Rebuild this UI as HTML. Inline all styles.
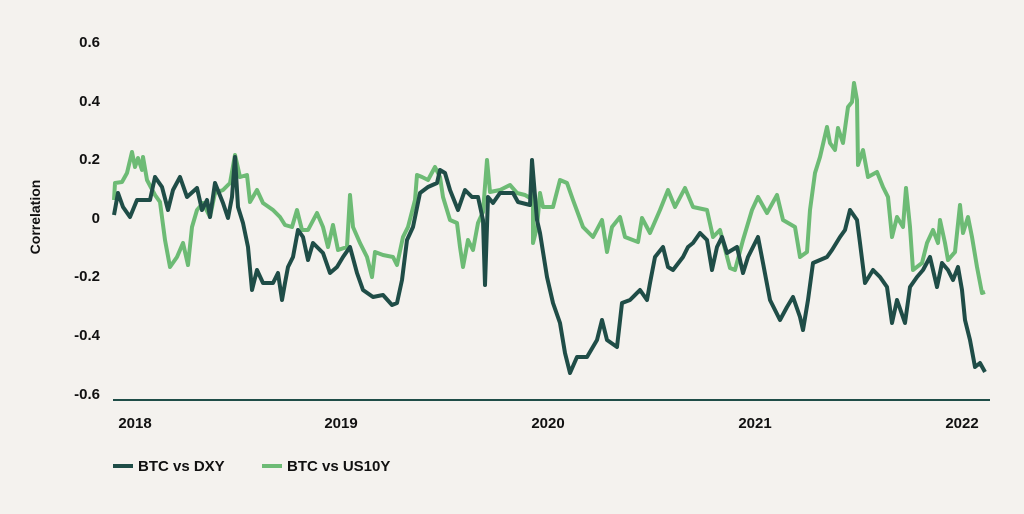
<!DOCTYPE html>
<html><head><meta charset="utf-8"><style>
body{margin:0;background:#f4f2ee;}
svg{display:block;font-family:"Liberation Sans",sans-serif;font-weight:bold;}
</style></head><body>
<svg width="1024" height="514" viewBox="0 0 1024 514">
<rect width="1024" height="514" fill="#f4f2ee"/>
<g font-size="15" fill="#111" text-anchor="end">
<text x="100" y="47">0.6</text>
<text x="100" y="106">0.4</text>
<text x="100" y="164">0.2</text>
<text x="100" y="223">0</text>
<text x="100" y="281">-0.2</text>
<text x="100" y="340">-0.4</text>
<text x="100" y="399">-0.6</text>
</g>
<text transform="translate(40,217) rotate(-90)" font-size="14" fill="#111" text-anchor="middle">Correlation</text>
<line x1="113" y1="400" x2="990" y2="400" stroke="#1f4d47" stroke-width="2"/>
<g font-size="15" fill="#111" text-anchor="middle">
<text x="135" y="428">2018</text>
<text x="341" y="428">2019</text>
<text x="548" y="428">2020</text>
<text x="755" y="428">2021</text>
<text x="962" y="428">2022</text>
</g>
<polyline fill="none" stroke="#6dbb75" stroke-width="4" stroke-linejoin="round" points="114,200 115,183 122,182 127,173 132,152 135,167 138,158 142,170 143,157 147,180 155,195 160,202 165,240 170,267 177,257 183,243 188,265 192,227 197,210 203,203 210,217 215,193 223,190 230,183 235,155 240,177 247,175 250,202 257,190 263,203 273,210 280,217 285,225 292,227 297,210 302,230 308,230 317,213 323,227 328,247 333,225 338,250 347,247 350,195 353,227 360,243 367,257 372,277 375,252 383,255 393,257 397,265 403,237 408,227 415,200 417,175 422,177 428,180 435,167 440,177 443,197 450,220 457,223 460,247 463,267 468,240 473,250 478,223 483,212 487,160 490,192 500,190 510,185 517,193 525,195 530,198 533,180 533,243 537,227 540,193 543,207 553,207 560,180 567,183 573,200 583,227 593,237 602,220 607,252 612,227 620,217 625,237 638,242 642,218 650,233 660,210 668,190 675,207 685,188 693,207 707,210 713,237 720,230 730,268 735,270 743,240 752,210 758,197 767,213 777,195 783,220 795,227 800,257 807,252 810,210 815,173 820,157 827,127 830,143 835,150 838,128 843,143 848,107 852,102 854,83 857,100 858,165 863,150 868,177 877,172 883,187 888,197 892,237 897,217 903,227 906,188 910,227 913,270 922,263 927,243 933,230 938,243 940,220 945,243 948,260 955,252 960,205 963,233 968,217 972,237 977,267 982,293 985,292"/>
<polyline fill="none" stroke="#1f4d47" stroke-width="4" stroke-linejoin="round" points="114,215 118,193 123,207 130,217 137,200 150,200 155,177 162,187 168,210 173,190 180,177 187,197 197,188 202,210 207,200 210,217 215,183 223,203 228,218 232,197 235,157 238,207 243,223 248,247 252,290 257,270 263,283 273,283 278,273 282,300 285,283 288,267 293,257 298,230 303,237 308,260 313,243 323,253 330,273 337,267 343,257 350,247 357,273 363,290 373,297 383,295 392,305 397,303 402,280 407,240 413,227 420,193 428,187 437,183 440,170 445,173 450,190 458,210 465,190 472,197 478,197 483,220 485,285 488,197 493,203 500,193 513,193 518,202 530,205 532,160 537,220 540,233 547,277 553,303 560,323 565,353 570,373 577,357 587,357 597,340 602,320 607,340 617,347 622,303 630,300 640,290 647,300 650,283 655,257 663,247 668,267 673,270 683,257 688,247 693,243 700,233 707,240 712,270 717,247 722,237 727,253 737,247 743,273 748,257 753,247 758,237 763,263 770,300 780,320 787,307 793,297 800,317 803,330 808,300 813,263 820,260 827,257 832,250 840,237 845,230 850,210 857,220 860,243 865,283 873,270 880,277 887,287 892,323 897,300 905,323 910,287 917,277 923,270 930,257 937,287 942,263 948,270 953,280 958,267 962,290 965,320 970,340 975,367 980,363 985,372"/>
<line x1="113" y1="466" x2="133" y2="466" stroke="#1f4d47" stroke-width="4"/>
<text x="138" y="471" font-size="15" fill="#111">BTC vs DXY</text>
<line x1="262" y1="466" x2="282" y2="466" stroke="#6dbb75" stroke-width="4"/>
<text x="287" y="471" font-size="15" fill="#111">BTC vs US10Y</text>
</svg>
</body></html>
